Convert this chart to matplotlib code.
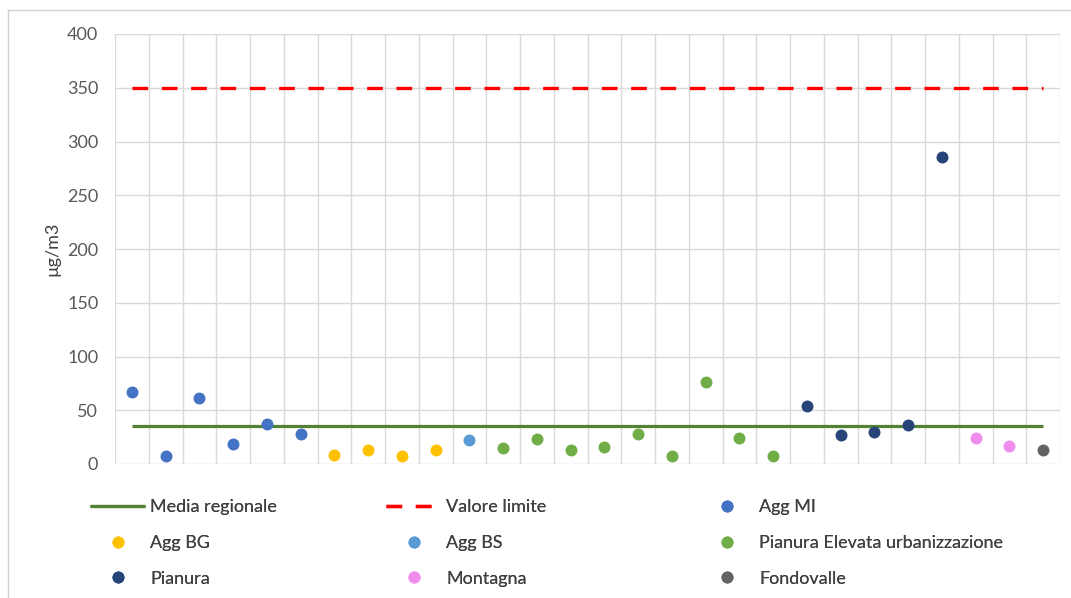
import matplotlib
matplotlib.use("Agg")
import matplotlib.pyplot as plt
from matplotlib.lines import Line2D
import numpy as np

plt.rcParams['font.family'] = ['Lato', 'DejaVu Sans']

# Data
groups = ["Agg MI"] * 6 + ["Agg BG"] * 4 + ["Agg BS"] + ["Pianura Elevata urbanizzazione"] * 9 \
         + ["Pianura"] * 5 + ["Montagna"] * 2 + ["Fondovalle"]
values = [67, 7, 61, 19, 37, 28,
          8, 13, 7, 13,
          22,
          15, 23, 13, 16, 28, 7, 76, 24, 7,
          54, 27, 30, 36, 286,
          24, 17,
          13]
media_regionale = 35
valore_limite = 350
y_ticks = [0, 50, 100, 150, 200, 250, 300, 350, 400]
y_label = "µg/m3"

group_colors = {
    "Agg MI": "#4472C4",
    "Agg BG": "#FFC000",
    "Agg BS": "#5B9BD5",
    "Pianura Elevata urbanizzazione": "#70AD47",
    "Pianura": "#264478",
    "Montagna": "#F08CEB",
    "Fondovalle": "#636363",
}

n = len(values)
x = np.arange(n)

fig = plt.figure(figsize=(10.71, 5.98), dpi=100)
ax = fig.add_axes([115 / 1071, 1 - 464 / 598, (1060 - 115) / 1071, (464 - 34) / 598])

ax.set_xlim(-0.5, n - 0.5)
ax.set_ylim(0, 400)
ax.set_yticks(y_ticks)
ax.set_xticks(np.arange(-0.5, n, 1.0))
ax.set_xticklabels([])
ax.grid(True, color="#D9D9D9", linewidth=1.0)
ax.tick_params(axis='both', length=0)
ax.tick_params(axis='y', labelsize=13, labelcolor="#595959", pad=12)
for s in ax.spines.values():
    s.set_visible(False)
ax.set_axisbelow(True)

h_media, = ax.plot(x, [media_regionale] * n, color="#548235", lw=2.3, zorder=2,
                   solid_capstyle='butt')
h_lim, = ax.plot(x, [valore_limite] * n, color="#FF0000", lw=2.4, zorder=2,
                 linestyle=(0, (4.7, 4.1)), dash_capstyle='butt')

handles = {}
for g, c in group_colors.items():
    xs = [xi for xi, gg in zip(x, groups) if gg == g]
    ys = [v for v, gg in zip(values, groups) if gg == g]
    h, = ax.plot(xs, ys, linestyle='none', marker='o', markersize=8.6,
                 color=c, markeredgewidth=0, zorder=3)
    handles[g] = h

ax.set_ylabel(y_label, fontsize=13, color="#404040", labelpad=5)

columns = [
    ([h_media, handles["Agg BG"], handles["Pianura"]], ["Media regionale", "Agg BG", "Pianura"], 90),
    ([h_lim, handles["Agg BS"], handles["Montagna"]], ["Valore limite", "Agg BS", "Montagna"], 386),
    ([handles["Agg MI"], handles["Pianura Elevata urbanizzazione"], handles["Fondovalle"]],
     ["Agg MI", "Pianura Elevata urbanizzazione", "Fondovalle"], 699),
]
for hs, labs, xpx in columns:
    leg = fig.legend(hs, labs, ncol=1, loc='upper left',
                     bbox_to_anchor=(xpx / 1071, 1 - 499 / 598),
                     frameon=False, fontsize=13, handlelength=3.05, handletextpad=0.28,
                     labelspacing=1.1, labelcolor="#404040", borderpad=0, borderaxespad=0)
    fig.add_artist(leg)

# figure border
fig.add_artist(Line2D([8 / 1071, 8 / 1071], [0, 1 - 10 / 598], color="#D0D0D0", lw=1,
                      transform=fig.transFigure))
fig.add_artist(Line2D([8 / 1071, 1], [1 - 10 / 598, 1 - 10 / 598], color="#D0D0D0", lw=1,
                      transform=fig.transFigure))

fig.savefig("out.png", dpi=100)
